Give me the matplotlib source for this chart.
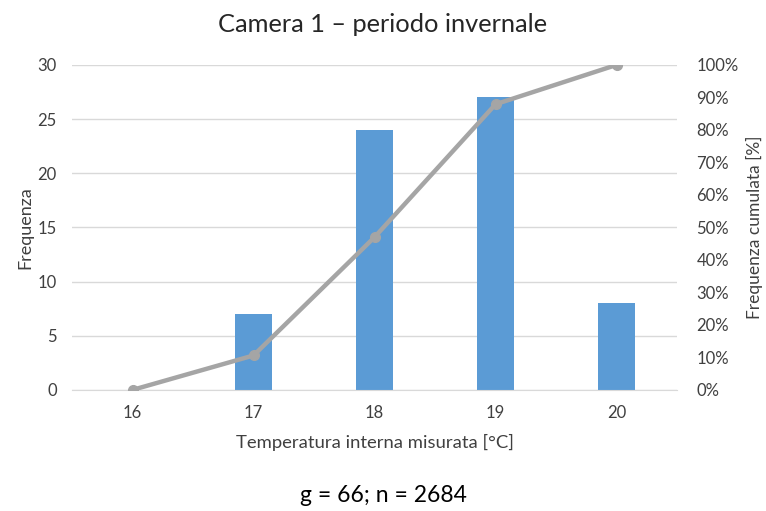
import matplotlib
matplotlib.use("Agg")
from matplotlib import pyplot as plt
from matplotlib.ticker import MultipleLocator, PercentFormatter

plt.rcParams['font.family'] = ['Lato', 'DejaVu Sans']

temperature = [16, 17, 18, 19, 20]
frequenza = [0, 7, 24, 27, 8]
cumulata = [0.0, 10.6, 47.0, 87.9, 100.0]

bar_col = "#5B9BD5"
line_col = "#A5A5A5"
text_col = "#404040"

fig = plt.figure(figsize=(7.66, 5.11), dpi=100)
ax = fig.add_axes([0.094, 0.237, 0.790, 0.636])
x = list(range(len(temperature)))

ax.bar(x, frequenza, width=0.31, color=bar_col, zorder=2)
ax.set_xlim(-0.5, len(x) - 0.5)
ax.set_ylim(0, 30)
ax.yaxis.set_major_locator(MultipleLocator(5))
ax.set_xticks(x)
ax.set_xticklabels([str(t) for t in temperature])
ax.grid(axis="y", color="#D9D9D9", lw=1, zorder=0)
for s in ax.spines.values():
    s.set_visible(False)
ax.spines["bottom"].set_visible(True)
ax.spines["bottom"].set_color("#D9D9D9")
ax.tick_params(length=0, labelsize=12, colors=text_col, pad=11)
ax.set_ylabel("Frequenza", fontsize=13, color=text_col, labelpad=3)
ax.set_xlabel("Temperatura interna misurata [°C]", fontsize=13.3, color=text_col, labelpad=9)

ax2 = ax.twinx()
ax2.plot(x, cumulata, color=line_col, lw=3.2, marker="o", ms=7, zorder=3)
ax2.set_ylim(0, 100)
ax2.yaxis.set_major_locator(MultipleLocator(10))
ax2.yaxis.set_major_formatter(PercentFormatter(decimals=0))
for s in ax2.spines.values():
    s.set_visible(False)
ax2.tick_params(length=0, labelsize=12, colors=text_col, pad=14)
ax2.set_ylabel("Frequenza cumulata [%]", fontsize=12.5, color=text_col, labelpad=5)

fig.text(0.5, 0.952, "Camera 1 – periodo invernale", ha="center", va="center",
         fontsize=18.3, color="#262626")
fig.text(0.5, 0.03, "g = 66; n = 2684", ha="center", va="center",
         fontsize=16.5, color="black")

fig.savefig("out.png", dpi=100)
